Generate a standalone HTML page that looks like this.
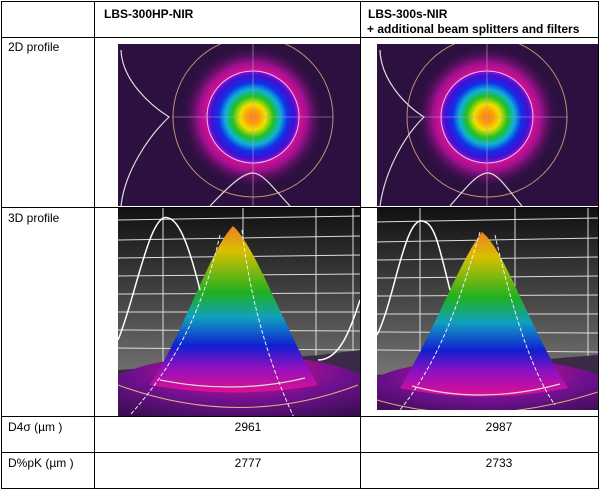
<!DOCTYPE html>
<html><head><style>
body{margin:0;background:#fff;width:602px;height:491px;overflow:hidden;font-family:"Liberation Sans",sans-serif}
svg{position:absolute;left:0;top:0}
text{font-family:"Liberation Sans",sans-serif;font-size:12px;fill:#000}
</style></head><body>
<svg width="602" height="491" viewBox="0 0 602 491">
<defs>
<radialGradient id="beam" cx="0.5" cy="0.5" r="0.5">
<stop offset="0" stop-color="#ff7a10"/><stop offset="0.15" stop-color="#ffa000"/><stop offset="0.28" stop-color="#f0e000"/>
<stop offset="0.45" stop-color="#20c020"/><stop offset="0.6" stop-color="#10b0d8"/>
<stop offset="0.75" stop-color="#1030e8"/><stop offset="0.9" stop-color="#4010d0"/>
<stop offset="1" stop-color="#9010d0"/></radialGradient>
<radialGradient id="halo" cx="0.5" cy="0.5" r="0.5">
<stop offset="0.55" stop-color="#ff1090"/><stop offset="0.75" stop-color="#a01090"/>
<stop offset="1" stop-color="#2c1040" stop-opacity="0"/></radialGradient>
<linearGradient id="cone" x1="0" y1="0" x2="0" y2="1">
<stop offset="0" stop-color="#f08020"/><stop offset="0.15" stop-color="#d8c000"/>
<stop offset="0.4" stop-color="#20b020"/><stop offset="0.55" stop-color="#10a0c0"/>
<stop offset="0.72" stop-color="#1020d0"/><stop offset="0.85" stop-color="#9010c0"/>
<stop offset="1" stop-color="#e01090"/></linearGradient>
<linearGradient id="wall" x1="0" y1="0" x2="0" y2="1">
<stop offset="0" stop-color="#111"/><stop offset="1" stop-color="#888"/></linearGradient>
<radialGradient id="floor" cx="0.5" cy="0.2" r="0.75">
<stop offset="0" stop-color="#e0108a"/><stop offset="0.5" stop-color="#701090"/><stop offset="1" stop-color="#2a0e40"/></radialGradient>
<clipPath id="c1"><rect x="118" y="208" width="242" height="208"/></clipPath>
<clipPath id="c2"><rect x="377" y="208" width="221" height="202"/></clipPath>
<clipPath id="c3"><rect x="118" y="44" width="242" height="162"/></clipPath>
<clipPath id="c4"><rect x="377" y="44" width="221" height="162"/></clipPath>
</defs>
<g clip-path="url(#c3)">
<rect x="118" y="44" width="242" height="162" fill="#2c1040"/>
<circle cx="253" cy="117" r="72" fill="url(#halo)"/>
<circle cx="253" cy="117" r="46" fill="url(#beam)"/>
<circle cx="253" cy="117" r="46" fill="none" stroke="#e0c0ff" stroke-width="1"/>
<circle cx="253" cy="117" r="80" fill="none" stroke="#c09070" stroke-width="1"/>
<line x1="172" y1="117" x2="333" y2="117" stroke="#c0a0c0" stroke-width="0.6"/>
<line x1="253" y1="44" x2="253" y2="206" stroke="#c0a0c0" stroke-width="0.6"/>
<path d="M121,50 C122,80 150,105 169,117 C150,135 125,170 121,206" fill="none" stroke="#ddd" stroke-width="1.2"/>
<path d="M210,206 C230,185 243,173 253,173 C263,173 275,190 290,206" fill="none" stroke="#ddd" stroke-width="1.2"/>
</g>
<g clip-path="url(#c4)">
<rect x="377" y="44" width="221" height="162" fill="#2c1040"/>
<circle cx="487" cy="117" r="72" fill="url(#halo)"/>
<circle cx="487" cy="117" r="46" fill="url(#beam)"/>
<circle cx="487" cy="117" r="46" fill="none" stroke="#e0c0ff" stroke-width="1"/>
<circle cx="487" cy="117" r="80" fill="none" stroke="#c09070" stroke-width="1"/>
<line x1="407" y1="117" x2="568" y2="117" stroke="#c0a0c0" stroke-width="0.6"/>
<line x1="487" y1="44" x2="487" y2="206" stroke="#c0a0c0" stroke-width="0.6"/>
<path d="M380,50 C381,80 405,105 424,117 C405,135 385,170 380,206" fill="none" stroke="#ddd" stroke-width="1.2"/>
<path d="M450,206 C468,185 478,173 488,173 C498,173 508,190 522,206" fill="none" stroke="#ddd" stroke-width="1.2"/>
</g>
<g clip-path="url(#c1)">
<rect x="118" y="208" width="242" height="208" fill="url(#wall)"/>
<g stroke="#ddd" stroke-width="1">
<line x1="118" y1="220" x2="360" y2="216"/><line x1="118" y1="240" x2="360" y2="236"/>
<line x1="118" y1="258" x2="360" y2="255"/><line x1="118" y1="276" x2="360" y2="274"/>
<line x1="118" y1="294" x2="360" y2="293"/><line x1="118" y1="312" x2="360" y2="312"/>
<line x1="118" y1="330" x2="360" y2="331"/><line x1="118" y1="348" x2="360" y2="350"/>
<line x1="163" y1="208" x2="163" y2="370"/><line x1="243" y1="208" x2="243" y2="360"/>
<line x1="316" y1="208" x2="316" y2="360"/><line x1="353" y1="208" x2="353" y2="360"/>
</g>
<polygon points="118,370 320,355 360,350 360,416 118,416" fill="#3a2a45"/>
<ellipse cx="240" cy="395" rx="140" ry="40" fill="url(#floor)"/>
<path d="M118,385 Q240,430 358,385" fill="none" stroke="#e0b080" stroke-width="1"/>
<path d="M150,385 C185,330 210,250 233,226 C255,245 285,330 318,385 Q235,400 150,385Z" fill="url(#cone)"/>
<path d="M160,380 Q235,395 305,378" fill="none" stroke="#ddd" stroke-width="1.2"/>
<path d="M118,340 C135,300 150,210 168,218 C180,220 190,250 200,290" fill="none" stroke="#fff" stroke-width="1.5"/>
<path d="M318,360 C340,360 350,330 360,300" fill="none" stroke="#fff" stroke-width="1.5"/>
<path d="M242,230 C250,300 270,370 300,430" fill="none" stroke="#eee" stroke-width="1" stroke-dasharray="4,2"/>
<path d="M220,235 C205,300 180,360 130,415" fill="none" stroke="#eee" stroke-width="1" stroke-dasharray="4,2"/>
</g>
<g clip-path="url(#c2)">
<rect x="377" y="208" width="221" height="202" fill="url(#wall)"/>
<g stroke="#ddd" stroke-width="1">
<line x1="377" y1="222" x2="598" y2="218"/><line x1="377" y1="242" x2="598" y2="238"/>
<line x1="377" y1="260" x2="598" y2="257"/><line x1="377" y1="278" x2="598" y2="276"/>
<line x1="377" y1="296" x2="598" y2="295"/><line x1="377" y1="314" x2="598" y2="314"/>
<line x1="377" y1="332" x2="598" y2="333"/><line x1="377" y1="350" x2="598" y2="352"/>
<line x1="420" y1="208" x2="420" y2="370"/><line x1="515" y1="208" x2="515" y2="360"/>
<line x1="588" y1="208" x2="588" y2="360"/>
</g>
<polygon points="377,375 560,358 598,355 598,410 377,410" fill="#3a2a45"/>
<ellipse cx="490" cy="395" rx="130" ry="36" fill="url(#floor)"/>
<path d="M377,400 Q480,430 598,392" fill="none" stroke="#e0b080" stroke-width="1"/>
<path d="M400,388 C435,330 460,260 482,232 C505,250 530,330 568,388 Q480,405 400,388Z" fill="url(#cone)"/>
<path d="M412,386 Q482,405 560,384" fill="none" stroke="#ddd" stroke-width="1.2"/>
<path d="M377,335 C395,300 405,210 425,222 C435,225 440,250 450,290" fill="none" stroke="#fff" stroke-width="1.5"/>
<path d="M480,232 C460,300 440,360 400,410" fill="none" stroke="#eee" stroke-width="1" stroke-dasharray="4,2"/>
<path d="M495,235 C510,300 530,370 555,405" fill="none" stroke="#eee" stroke-width="1" stroke-dasharray="4,2"/>
</g>
<g stroke="#000" stroke-width="1" fill="none">
<rect x="1.5" y="1.5" width="597" height="487"/>
<line x1="94.5" y1="1" x2="94.5" y2="489"/>
<line x1="360.5" y1="1" x2="360.5" y2="489"/>
<line x1="1" y1="37.5" x2="599" y2="37.5"/>
<line x1="1" y1="207.5" x2="599" y2="207.5"/>
<line x1="1" y1="416.5" x2="599" y2="416.5"/>
<line x1="1" y1="452.5" x2="599" y2="452.5"/>
</g>
<text x="104" y="18" font-weight="bold">LBS-300HP-NIR</text>
<text x="368" y="18" font-weight="bold">LBS-300s-NIR</text>
<text x="367" y="33" font-weight="bold">+ additional beam splitters and filters</text>
<text x="8" y="51">2D profile</text>
<text x="8" y="222">3D profile</text>
<text x="8" y="431">D4σ (µm )</text>
<text x="8" y="467">D%pK (µm )</text>
<text x="248" y="431" text-anchor="middle">2961</text>
<text x="499" y="431" text-anchor="middle">2987</text>
<text x="248" y="467" text-anchor="middle">2777</text>
<text x="499" y="467" text-anchor="middle">2733</text>
</svg>
</body></html>
